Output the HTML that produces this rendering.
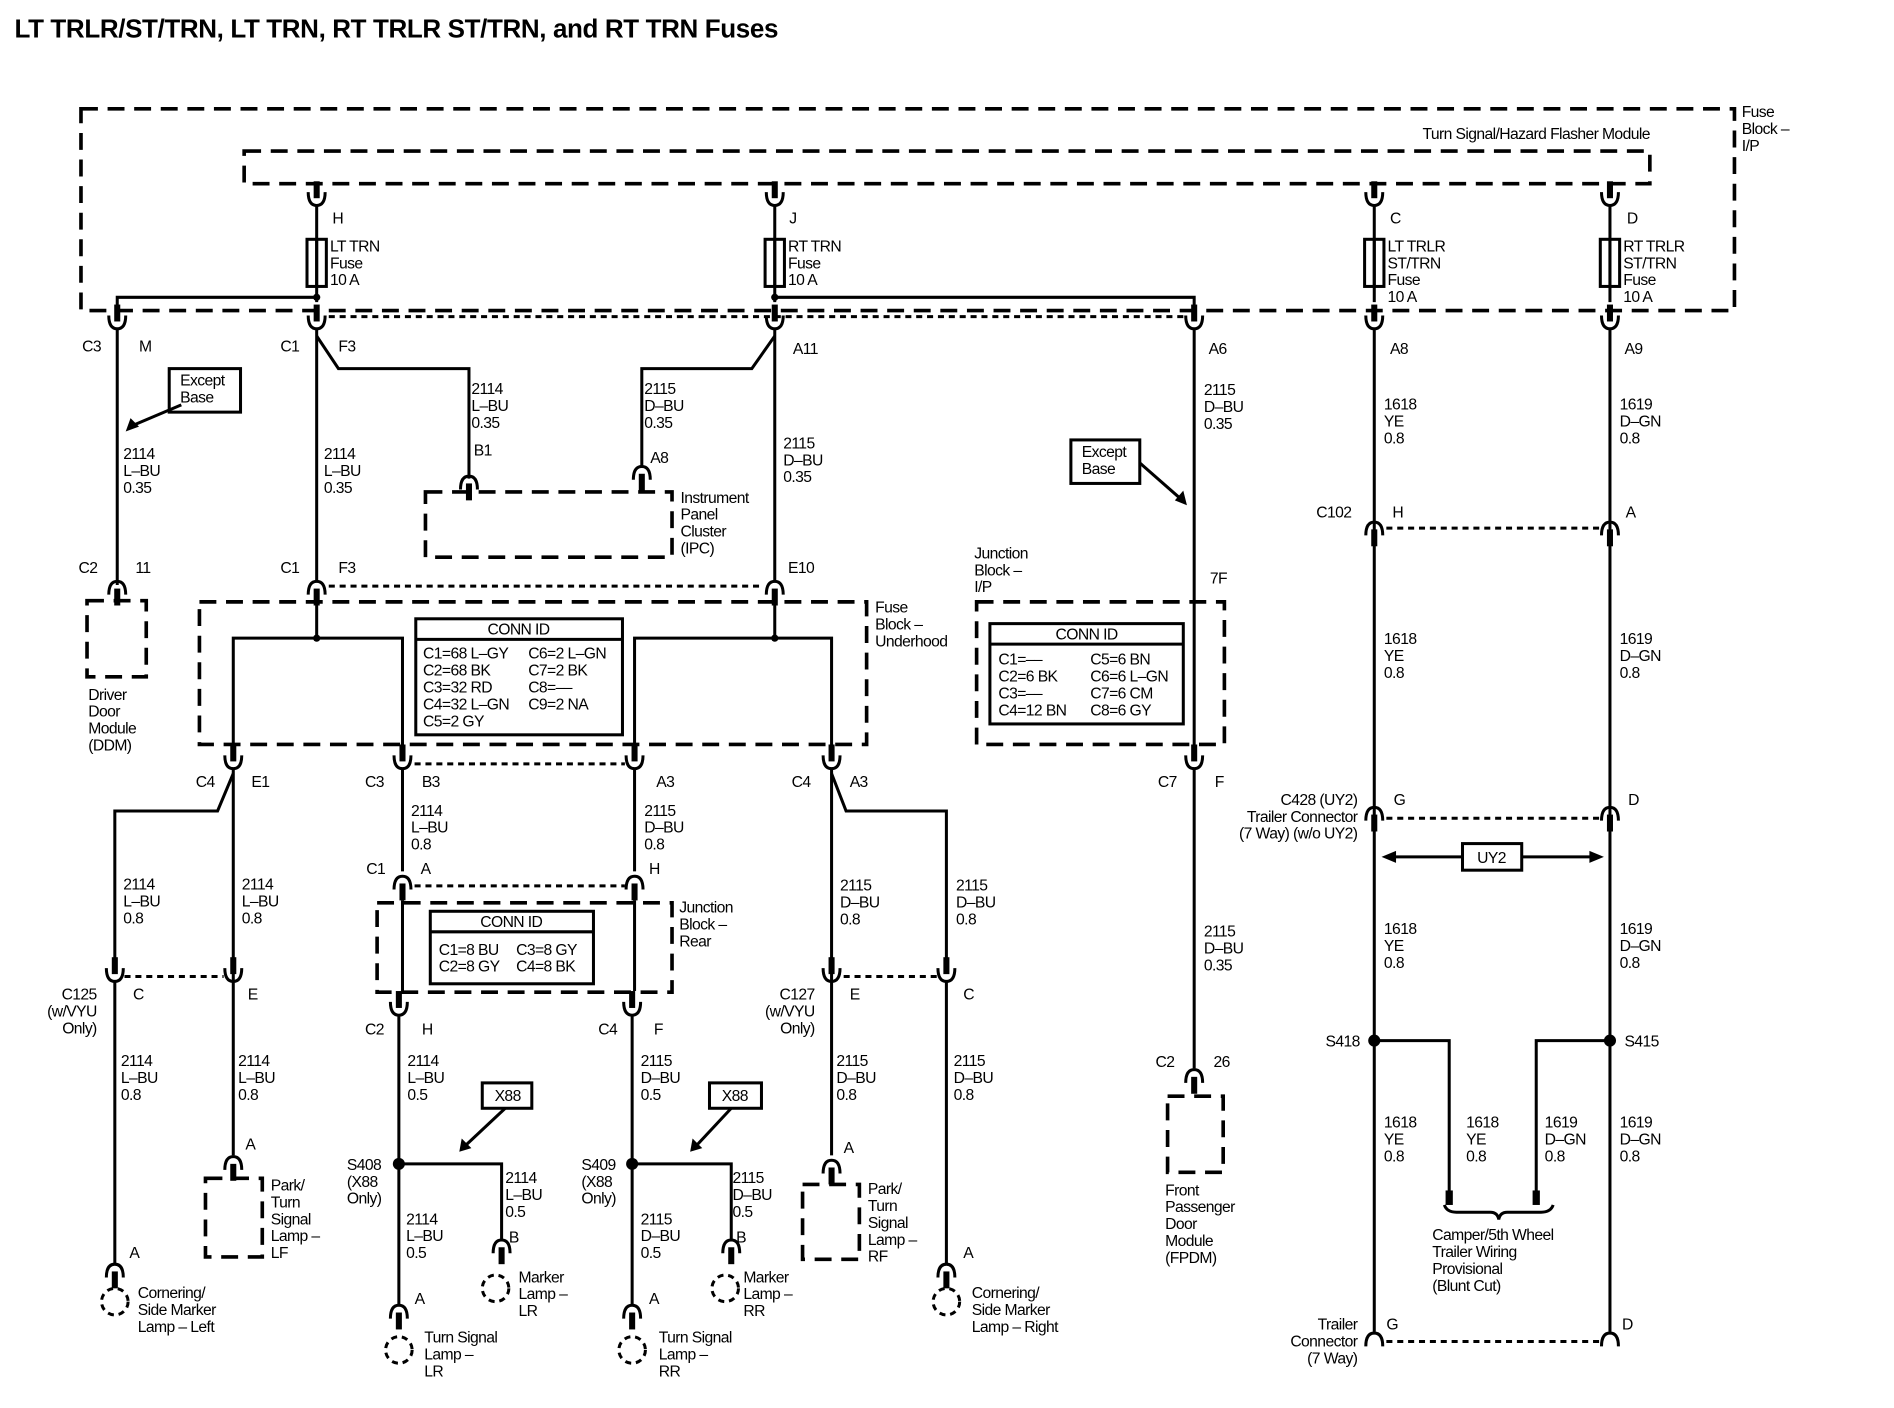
<!DOCTYPE html>
<html><head><meta charset="utf-8"><style>
html,body{margin:0;padding:0;background:#fff;}
svg{display:block;}
text{font-family:"Liberation Sans",Arial,sans-serif;font-size:13px;fill:#000;letter-spacing:-0.5px;}
.b{font-weight:bold;}
</style></head><body>
<svg width="1894" height="1408" viewBox="0 0 1567 1165" preserveAspectRatio="none" xmlns="http://www.w3.org/2000/svg">
<defs>
<g id="U"><rect x="-2.5" y="-16" width="5" height="14" fill="#000"/><path d="M-7,-7 Q-7,4 0,4 Q7,4 7,-7" fill="none" stroke="#000" stroke-width="2.5"/></g>
<g id="N"><rect x="-2.5" y="2" width="5" height="14" fill="#000"/><path d="M-7,7 Q-7,-4 0,-4 Q7,-4 7,7" fill="none" stroke="#000" stroke-width="2.5"/></g>
<g id="Nn"><path d="M-7,7 Q-7,-4 0,-4 Q7,-4 7,7" fill="none" stroke="#000" stroke-width="2.5"/></g>
</defs>
<rect width="1567" height="1165" fill="#fff"/>
<text x="12" y="31" class="b" style="font-size:21.5px;letter-spacing:-0.3px">LT TRLR/ST/TRN, LT TRN, RT TRLR ST/TRN, and RT TRN Fuses</text>

<g fill="none" stroke="#000" stroke-width="3" stroke-dasharray="14 8">
<rect x="67" y="90" width="1368" height="167"/>
<rect x="202" y="125" width="1163" height="27"/>
<rect x="352" y="407" width="204" height="54"/>
<rect x="72" y="497" width="49" height="63"/>
<rect x="165" y="498" width="552" height="118"/>
<rect x="808" y="498" width="205" height="118"/>
<rect x="312" y="747" width="244" height="74"/>
<rect x="170" y="975" width="47" height="65"/>
<rect x="664" y="980" width="47" height="62"/>
<rect x="966" y="907" width="46" height="63"/>
</g>
<g fill="none" stroke="#000" stroke-width="2.5" stroke-dasharray="5 4">
<line x1="272" y1="262" x2="980" y2="262"/>
<line x1="272" y1="485" x2="632" y2="485"/>
<line x1="1147" y1="437" x2="1325" y2="437"/>
<line x1="1147" y1="677" x2="1325" y2="677"/>
<line x1="1147" y1="1110" x2="1325" y2="1110"/>
<line x1="103" y1="808" x2="185" y2="808"/>
<line x1="343" y1="632" x2="517" y2="632"/>
<line x1="343" y1="733" x2="517" y2="733"/>
<line x1="698" y1="808" x2="775" y2="808"/>
<circle cx="95" cy="1077" r="11"/>
<circle cx="783" cy="1077" r="11"/>
<circle cx="410" cy="1066" r="11"/>
<circle cx="600" cy="1066" r="11"/>
<circle cx="330" cy="1117" r="11"/>
<circle cx="523" cy="1117" r="11"/>
</g>

<g fill="none" stroke="#000" stroke-width="2.5">
<line x1="262" y1="169" x2="262" y2="250"/>
<line x1="641" y1="169" x2="641" y2="250"/>
<line x1="1137" y1="169" x2="1137" y2="250"/>
<line x1="1332" y1="169" x2="1332" y2="250"/>
<polyline points="97,258 97,246 262,246"/>
<polyline points="641,246 988,246 988,258"/>
<rect x="254" y="198" width="16" height="39"/><line x1="262" y1="198" x2="262" y2="237"/>
<rect x="633" y="198" width="16" height="39"/><line x1="641" y1="198" x2="641" y2="237"/>
<rect x="1129" y="198" width="16" height="39"/><line x1="1137" y1="198" x2="1137" y2="237"/>
<rect x="1324" y="198" width="16" height="39"/><line x1="1332" y1="198" x2="1332" y2="237"/>
<line x1="97" y1="272" x2="97" y2="484"/>
<line x1="262" y1="272" x2="262" y2="482"/>
<line x1="641" y1="272" x2="641" y2="482"/>
<line x1="988" y1="272" x2="988" y2="618"/>
<line x1="1137" y1="272" x2="1137" y2="1102"/>
<line x1="1332" y1="272" x2="1332" y2="1102"/>
<polyline points="262,278 280,305 388,305 388,396"/>
<polyline points="641,278 622,305 531,305 531,386"/>
<line x1="262" y1="500" x2="262" y2="528"/>
<line x1="641" y1="500" x2="641" y2="528"/>
<polyline points="193,618 193,528 333,528 333,618"/>
<polyline points="525,618 525,528 688,528 688,618"/>
<line x1="193" y1="636" x2="193" y2="956"/>
<polyline points="193,640 180,671 95,671 95,795"/>
<line x1="95" y1="812" x2="95" y2="1046"/>
<line x1="333" y1="636" x2="333" y2="721"/>
<line x1="525" y1="636" x2="525" y2="721"/>
<line x1="333" y1="745" x2="333" y2="820"/>
<line x1="525" y1="745" x2="525" y2="820"/>
<line x1="330" y1="839" x2="330" y2="1080"/>
<line x1="523" y1="839" x2="523" y2="1080"/>
<polyline points="330,963 415,963 415,1026"/>
<polyline points="523,963 605,963 605,1026"/>
<line x1="688" y1="636" x2="688" y2="956"/>
<polyline points="688,640 700,671 783,671 783,795"/>
<line x1="783" y1="812" x2="783" y2="1046"/>
<line x1="988" y1="636" x2="988" y2="884"/>
<polyline points="1137,861 1199,861 1199,985"/>
<polyline points="1332,861 1271,861 1271,985"/>
<path d="M1195,997 Q1197,1003 1205,1003 L1233,1003 Q1239,1003 1240,1009 Q1241,1003 1247,1003 L1275,1003 Q1283,1003 1285,997"/>
<rect x="344" y="512" width="171" height="96"/><line x1="344" y1="529" x2="515" y2="529"/>
<rect x="819" y="516" width="160" height="83"/><line x1="819" y1="533" x2="979" y2="533"/>
<rect x="356" y="754" width="135" height="60"/><line x1="356" y1="771" x2="491" y2="771"/>
<rect x="140" y="305" width="59" height="36"/>
<rect x="886" y="364" width="57" height="36"/>
<rect x="399" y="896" width="41" height="21"/>
<rect x="587" y="896" width="43" height="21"/>
<rect x="1210" y="698" width="49" height="22"/>
<line x1="150" y1="335" x2="110" y2="352"/>
<line x1="943" y1="383" x2="976" y2="412"/>
<line x1="418" y1="917" x2="386" y2="947"/>
<line x1="605" y1="917" x2="577" y2="947"/>
<line x1="1152" y1="709" x2="1210" y2="709"/><line x1="1259" y1="709" x2="1318" y2="709"/>
</g>
<g fill="#000">
<rect x="1196" y="985" width="6" height="12"/><rect x="1268" y="985" width="6" height="12"/>
<polygon points="104,357 108,346 115,353"/>
<polygon points="982,418 972,414 979,406"/>
<polygon points="380,953 382,942 390,950"/>
<polygon points="571,953 573,942 581,950"/>
<polygon points="1143,709 1155,704 1155,714"/>
<polygon points="1327,709 1315,704 1315,714"/>
<circle cx="262" cy="246" r="3"/><circle cx="641" cy="246" r="3"/>
<circle cx="262" cy="528" r="3"/><circle cx="641" cy="528" r="3"/>
<circle cx="330" cy="963" r="5"/><circle cx="523" cy="963" r="5"/>
<circle cx="1137" cy="861" r="5"/><circle cx="1332" cy="861" r="5"/>
</g>

<use href="#U" x="262" y="166"/><use href="#U" x="641" y="166"/><use href="#U" x="1137" y="166"/><use href="#U" x="1332" y="166"/>
<use href="#U" x="97" y="268"/><use href="#U" x="262" y="268"/><use href="#U" x="641" y="268"/><use href="#U" x="988" y="268"/><use href="#U" x="1137" y="268"/><use href="#U" x="1332" y="268"/>
<use href="#N" x="388" y="398"/><use href="#N" x="531" y="390"/>
<use href="#N" x="97" y="485"/><use href="#N" x="262" y="485"/><use href="#N" x="641" y="485"/>
<use href="#N" x="1137" y="436"/><use href="#N" x="1332" y="436"/>
<use href="#N" x="1137" y="672"/><use href="#N" x="1332" y="672"/>
<use href="#Nn" x="1137" y="1107"/><use href="#Nn" x="1332" y="1107"/>
<use href="#U" x="193" y="632"/><use href="#U" x="333" y="632"/><use href="#U" x="525" y="632"/><use href="#U" x="688" y="632"/><use href="#U" x="988" y="632"/>
<use href="#N" x="333" y="729"/><use href="#N" x="525" y="729"/>
<use href="#U" x="330" y="836"/><use href="#U" x="523" y="836"/>
<use href="#U" x="95" y="808"/><use href="#U" x="193" y="808"/><use href="#U" x="688" y="808"/><use href="#U" x="783" y="808"/>
<use href="#N" x="193" y="961"/><use href="#N" x="688" y="964"/><use href="#N" x="95" y="1050"/><use href="#N" x="783" y="1050"/>
<use href="#N" x="415" y="1030"/><use href="#N" x="605" y="1030"/><use href="#N" x="330" y="1084"/><use href="#N" x="523" y="1084"/>
<use href="#N" x="988" y="889"/>

<text x="1441" y="97">Fuse</text><text x="1441" y="111">Block –</text><text x="1441" y="125">I/P</text>
<text x="1365" y="115" text-anchor="end">Turn Signal/Hazard Flasher Module</text>
<text x="275" y="185">H</text><text x="653" y="185">J</text><text x="1150" y="185">C</text><text x="1346" y="185">D</text>
<text x="273" y="208">LT TRN</text><text x="273" y="222">Fuse</text><text x="273" y="236">10 A</text>
<text x="652" y="208">RT TRN</text><text x="652" y="222">Fuse</text><text x="652" y="236">10 A</text>
<text x="1148" y="208">LT TRLR</text><text x="1148" y="222">ST/TRN</text><text x="1148" y="236">Fuse</text><text x="1148" y="250">10 A</text>
<text x="1343" y="208">RT TRLR</text><text x="1343" y="222">ST/TRN</text><text x="1343" y="236">Fuse</text><text x="1343" y="250">10 A</text>
<text x="68" y="291">C3</text><text x="115" y="291">M</text><text x="232" y="291">C1</text><text x="280" y="291">F3</text>
<text x="656" y="293">A11</text><text x="1000" y="293">A6</text><text x="1150" y="293">A8</text><text x="1344" y="293">A9</text>
<text x="149" y="319">Except</text><text x="149" y="333">Base</text>
<text x="895" y="378">Except</text><text x="895" y="392">Base</text>
<text x="102" y="380">2114</text><text x="102" y="394">L–BU</text><text x="102" y="408">0.35</text>
<text x="268" y="380">2114</text><text x="268" y="394">L–BU</text><text x="268" y="408">0.35</text>
<text x="390" y="326">2114</text><text x="390" y="340">L–BU</text><text x="390" y="354">0.35</text>
<text x="533" y="326">2115</text><text x="533" y="340">D–BU</text><text x="533" y="354">0.35</text>
<text x="648" y="371">2115</text><text x="648" y="385">D–BU</text><text x="648" y="399">0.35</text>
<text x="996" y="327">2115</text><text x="996" y="341">D–BU</text><text x="996" y="355">0.35</text>
<text x="1145" y="339">1618</text><text x="1145" y="353">YE</text><text x="1145" y="367">0.8</text>
<text x="1340" y="339">1619</text><text x="1340" y="353">D–GN</text><text x="1340" y="367">0.8</text>
<text x="392" y="377">B1</text><text x="538" y="383">A8</text>
<text x="563" y="416">Instrument</text><text x="563" y="430">Panel</text><text x="563" y="444">Cluster</text><text x="563" y="458">(IPC)</text>
<text x="1089" y="428">C102</text><text x="1152" y="428">H</text><text x="1345" y="428">A</text>
<text x="65" y="474">C2</text><text x="112" y="474">11</text><text x="232" y="474">C1</text><text x="280" y="474">F3</text><text x="652" y="474">E10</text>
<text x="806" y="462">Junction</text><text x="806" y="476">Block –</text><text x="806" y="490">I/P</text>
<text x="1001" y="483">7F</text>
<text x="724" y="507">Fuse</text><text x="724" y="521">Block –</text><text x="724" y="535">Underhood</text>
<text x="429" y="525" text-anchor="middle">CONN ID</text>
<text x="350" y="545">C1=68 L–GY</text><text x="437" y="545">C6=2 L–GN</text>
<text x="350" y="559">C2=68 BK</text><text x="437" y="559">C7=2 BK</text>
<text x="350" y="573">C3=32 RD</text><text x="437" y="573">C8=––</text>
<text x="350" y="587">C4=32 L–GN</text><text x="437" y="587">C9=2 NA</text>
<text x="350" y="601">C5=2 GY</text>
<text x="899" y="529" text-anchor="middle">CONN ID</text>
<text x="826" y="550">C1=––</text><text x="902" y="550">C5=6 BN</text>
<text x="826" y="564">C2=6 BK</text><text x="902" y="564">C6=6 L–GN</text>
<text x="826" y="578">C3=––</text><text x="902" y="578">C7=6 CM</text>
<text x="826" y="592">C4=12 BN</text><text x="902" y="592">C8=6 GY</text>
<text x="1145" y="533">1618</text><text x="1145" y="547">YE</text><text x="1145" y="561">0.8</text>
<text x="1340" y="533">1619</text><text x="1340" y="547">D–GN</text><text x="1340" y="561">0.8</text>
<text x="73" y="579">Driver</text><text x="73" y="593">Door</text><text x="73" y="607">Module</text><text x="73" y="621">(DDM)</text>
<text x="162" y="651">C4</text><text x="208" y="651">E1</text><text x="302" y="651">C3</text><text x="349" y="651">B3</text><text x="543" y="651">A3</text>
<text x="655" y="651">C4</text><text x="703" y="651">A3</text><text x="958" y="651">C7</text><text x="1005" y="651">F</text>
<text x="1123" y="666" text-anchor="end">C428 (UY2)</text><text x="1123" y="680" text-anchor="end">Trailer Connector</text><text x="1123" y="694" text-anchor="end">(7 Way) (w/o UY2)</text>
<text x="1153" y="666">G</text><text x="1347" y="666">D</text>
<text x="1234" y="714" text-anchor="middle">UY2</text>
<text x="340" y="675">2114</text><text x="340" y="689">L–BU</text><text x="340" y="703">0.8</text>
<text x="533" y="675">2115</text><text x="533" y="689">D–BU</text><text x="533" y="703">0.8</text>
<text x="303" y="723">C1</text><text x="348" y="723">A</text><text x="537" y="723">H</text>
<text x="102" y="736">2114</text><text x="102" y="750">L–BU</text><text x="102" y="764">0.8</text>
<text x="200" y="736">2114</text><text x="200" y="750">L–BU</text><text x="200" y="764">0.8</text>
<text x="695" y="737">2115</text><text x="695" y="751">D–BU</text><text x="695" y="765">0.8</text>
<text x="791" y="737">2115</text><text x="791" y="751">D–BU</text><text x="791" y="765">0.8</text>
<text x="562" y="755">Junction</text><text x="562" y="769">Block –</text><text x="562" y="783">Rear</text>
<text x="423" y="767" text-anchor="middle">CONN ID</text>
<text x="363" y="790">C1=8 BU</text><text x="427" y="790">C3=8 GY</text>
<text x="363" y="804">C2=8 GY</text><text x="427" y="804">C4=8 BK</text>
<text x="1145" y="773">1618</text><text x="1145" y="787">YE</text><text x="1145" y="801">0.8</text>
<text x="1340" y="773">1619</text><text x="1340" y="787">D–GN</text><text x="1340" y="801">0.8</text>
<text x="996" y="775">2115</text><text x="996" y="789">D–BU</text><text x="996" y="803">0.35</text>
<text x="80" y="827" text-anchor="end">C125</text><text x="80" y="841" text-anchor="end">(w/VYU</text><text x="80" y="855" text-anchor="end">Only)</text>
<text x="110" y="827">C</text><text x="205" y="827">E</text>
<text x="674" y="827" text-anchor="end">C127</text><text x="674" y="841" text-anchor="end">(w/VYU</text><text x="674" y="855" text-anchor="end">Only)</text>
<text x="703" y="827">E</text><text x="797" y="827">C</text>
<text x="302" y="856">C2</text><text x="349" y="856">H</text><text x="495" y="856">C4</text><text x="541" y="856">F</text>
<text x="1125" y="866" text-anchor="end">S418</text><text x="1344" y="866">S415</text>
<text x="100" y="882">2114</text><text x="100" y="896">L–BU</text><text x="100" y="910">0.8</text>
<text x="197" y="882">2114</text><text x="197" y="896">L–BU</text><text x="197" y="910">0.8</text>
<text x="337" y="882">2114</text><text x="337" y="896">L–BU</text><text x="337" y="910">0.5</text>
<text x="530" y="882">2115</text><text x="530" y="896">D–BU</text><text x="530" y="910">0.5</text>
<text x="692" y="882">2115</text><text x="692" y="896">D–BU</text><text x="692" y="910">0.8</text>
<text x="789" y="882">2115</text><text x="789" y="896">D–BU</text><text x="789" y="910">0.8</text>
<text x="956" y="883">C2</text><text x="1004" y="883">26</text>
<text x="420" y="911" text-anchor="middle">X88</text><text x="608" y="911" text-anchor="middle">X88</text>
<text x="1145" y="933">1618</text><text x="1145" y="947">YE</text><text x="1145" y="961">0.8</text>
<text x="1213" y="933">1618</text><text x="1213" y="947">YE</text><text x="1213" y="961">0.8</text>
<text x="1278" y="933">1619</text><text x="1278" y="947">D–GN</text><text x="1278" y="961">0.8</text>
<text x="1340" y="933">1619</text><text x="1340" y="947">D–GN</text><text x="1340" y="961">0.8</text>
<text x="203" y="951">A</text><text x="698" y="954">A</text>
<text x="287" y="968">S408</text><text x="287" y="982">(X88</text><text x="287" y="996">Only)</text>
<text x="481" y="968">S409</text><text x="481" y="982">(X88</text><text x="481" y="996">Only)</text>
<text x="418" y="979">2114</text><text x="418" y="993">L–BU</text><text x="418" y="1007">0.5</text>
<text x="606" y="979">2115</text><text x="606" y="993">D–BU</text><text x="606" y="1007">0.5</text>
<text x="224" y="985">Park/</text><text x="224" y="999">Turn</text><text x="224" y="1013">Signal</text><text x="224" y="1027">Lamp –</text><text x="224" y="1041">LF</text>
<text x="718" y="988">Park/</text><text x="718" y="1002">Turn</text><text x="718" y="1016">Signal</text><text x="718" y="1030">Lamp –</text><text x="718" y="1044">RF</text>
<text x="964" y="989">Front</text><text x="964" y="1003">Passenger</text><text x="964" y="1017">Door</text><text x="964" y="1031">Module</text><text x="964" y="1045">(FPDM)</text>
<text x="336" y="1013">2114</text><text x="336" y="1027">L–BU</text><text x="336" y="1041">0.5</text>
<text x="530" y="1013">2115</text><text x="530" y="1027">D–BU</text><text x="530" y="1041">0.5</text>
<text x="421" y="1028">B</text><text x="609" y="1028">B</text>
<text x="1185" y="1026">Camper/5th Wheel</text><text x="1185" y="1040">Trailer Wiring</text><text x="1185" y="1054">Provisional</text><text x="1185" y="1068">(Blunt Cut)</text>
<text x="107" y="1041">A</text><text x="797" y="1041">A</text>
<text x="429" y="1061">Marker</text><text x="429" y="1075">Lamp –</text><text x="429" y="1089">LR</text>
<text x="615" y="1061">Marker</text><text x="615" y="1075">Lamp –</text><text x="615" y="1089">RR</text>
<text x="114" y="1074">Cornering/</text><text x="114" y="1088">Side Marker</text><text x="114" y="1102">Lamp – Left</text>
<text x="804" y="1074">Cornering/</text><text x="804" y="1088">Side Marker</text><text x="804" y="1102">Lamp – Right</text>
<text x="343" y="1079">A</text><text x="537" y="1079">A</text>
<text x="1123" y="1100" text-anchor="end">Trailer</text><text x="1123" y="1114" text-anchor="end">Connector</text><text x="1123" y="1128" text-anchor="end">(7 Way)</text>
<text x="1147" y="1100">G</text><text x="1342" y="1100">D</text>
<text x="351" y="1111">Turn Signal</text><text x="351" y="1125">Lamp –</text><text x="351" y="1139">LR</text>
<text x="545" y="1111">Turn Signal</text><text x="545" y="1125">Lamp –</text><text x="545" y="1139">RR</text>
</svg>
</body></html>
